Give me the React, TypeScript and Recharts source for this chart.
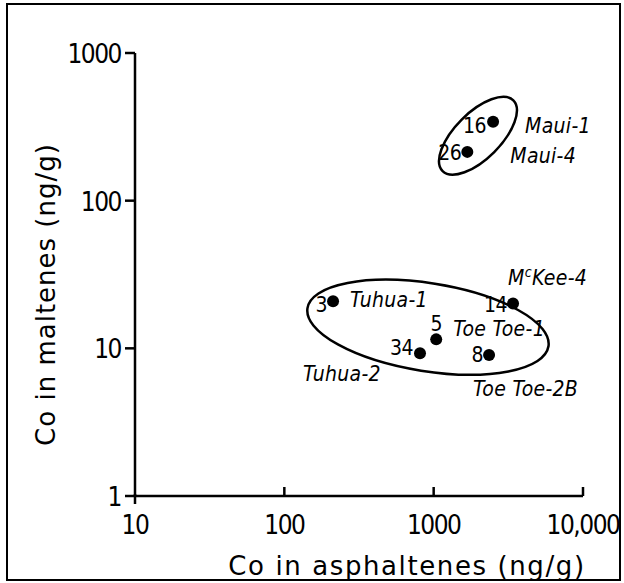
import React from 'react'
import { ScatterChart, Scatter, XAxis, YAxis, ReferenceDot } from 'recharts'

// samples
const sampleIds = ['16', '26', '3', '14', '5', '34', '8']
const asphaltenes = [2500, 1680, 212, 3400, 1040, 810, 2350]
const maltenes = [342, 214, 20.8, 20.1, 11.5, 9.25, 9.0]
const wellNames = ['Maui-1', 'Maui-4', 'Tuhua-1', 'McKee-4', 'Toe Toe-1', 'Tuhua-2', 'Toe Toe-2B']

const xTicks = [10, 100, 1000, 10000]
const xTickLabels = ['10', '100', '1000', '10,000']
const yTicks = [1, 10, 100, 1000]
const yTickLabels = ['1', '10', '100', '1000']

// centres of the two field outlines
const groupX = [1980, 916]
const groupY = [275, 13.9]

// label placement (px from the dot)
const labelLayout: Record<string, { num: [number, number]; name: [number, number]; numAnchor?: string }> = {
    '16': { num: [-7, 11], name: [32, 11] },
    '26': { num: [-6, 8], name: [43, 11] },
    '3': { num: [-6, 11], name: [17, 6] },
    '14': { num: [-6, 8], name: [-5, -19] },
    '5': { num: [0, -8], name: [17, -3], numAnchor: 'middle' },
    '34': { num: [-7, 2], name: [-117, 28] },
    '8': { num: [-6, 7], name: [-16, 41] },
}

const outlines = [
    { rx: 50, ry: 23, angle: -45 },
    { rx: 122, ry: 44, angle: 9 },
]

const rows = sampleIds.map((id, i) => ({ id, x: asphaltenes[i], y: maltenes[i], well: wellNames[i] }))

const labelFont = "'DejaVu Sans Condensed', sans-serif"
const titleFont = "'DejaVu Sans', sans-serif"

const WellName = ({ name }: { name: string }) => {
    if (name.startsWith('Mc')) {
        return (
            <>
                M
                <tspan fontSize={14} dy={-8}>c</tspan>
                <tspan dy={8}>{name.slice(2)}</tspan>
            </>
        )
    }
    return <>{name}</>
}

const SampleDot = (props: any) => {
    const { cx, cy, payload } = props
    const lay = labelLayout[payload.id]
    return (
        <g>
            <circle cx={cx} cy={cy} r={6} fill="#000" />
            <text
                x={cx + lay.num[0]}
                y={cy + lay.num[1]}
                textAnchor={lay.numAnchor || 'end'}
                fontFamily={labelFont}
                fontSize={21}
                letterSpacing={-0.5}
                fill="#000"
            >
                {payload.id}
            </text>
            <text
                x={cx + lay.name[0]}
                y={cy + lay.name[1]}
                fontFamily={labelFont}
                fontStyle="italic"
                fontSize={21}
                letterSpacing={0.3}
                fill="#000"
            >
                <WellName name={payload.well} />
            </text>
        </g>
    )
}

const XTick = (props: any) => {
    const { x, y, payload } = props
    const idx = xTicks.indexOf(payload.value)
    return (
        <g>
            {idx > 0 && <line x1={x} y1={y} x2={x} y2={y - 9} stroke="#000" strokeWidth={2.5} />}
            {idx === 0 && <line x1={x} y1={y - 2} x2={x} y2={y + 8} stroke="#000" strokeWidth={2.5} />}
            <text x={x} y={y + 38} textAnchor="middle" fontFamily={labelFont} fontSize={26} letterSpacing={-1.5} fill="#000">
                {xTickLabels[idx]}
            </text>
        </g>
    )
}

const YTick = (props: any) => {
    const { x, y, payload } = props
    const idx = yTicks.indexOf(payload.value)
    return (
        <g>
            <line x1={x - 10} y1={y} x2={x} y2={y} stroke="#000" strokeWidth={2.5} />
            <text x={x - 14} y={y + 10} textAnchor="end" fontFamily={labelFont} fontSize={26} letterSpacing={-1.5} fill="#000">
                {yTickLabels[idx]}
            </text>
        </g>
    )
}

export default function App() {
    return (
        <div style={{ position: 'absolute', left: 0, top: 0, width: 624, height: 583, background: '#fff' }}>
            <div
                style={{
                    position: 'absolute',
                    left: 6,
                    top: 3,
                    width: 611,
                    height: 574,
                    border: '2.5px solid #000',
                }}
            />
            <ScatterChart
                width={624}
                height={583}
                margin={{ top: 53, right: 41, bottom: 0, left: 0 }}
                style={{ position: 'absolute', left: 0, top: 0 }}
            >
                <XAxis
                    type="number"
                    dataKey="x"
                    scale="log"
                    domain={[10, 10000]}
                    ticks={xTicks}
                    height={87}
                    tickSize={0}
                    tickMargin={0}
                    tickLine={false}
                    axisLine={{ stroke: '#000', strokeWidth: 2.5 }}
                    tick={<XTick />}
                    label={{
                        content: ({ viewBox }: any) => (
                            <text
                                x={viewBox.x + viewBox.width / 2 + 48}
                                y={viewBox.y + 79}
                                textAnchor="middle"
                                fontFamily={titleFont}
                                fontSize={26}
                                letterSpacing={1.6}
                                fill="#000"
                            >
                                Co in asphaltenes (ng/g)
                            </text>
                        ),
                    }}
                />
                <YAxis
                    type="number"
                    dataKey="y"
                    scale="log"
                    domain={[1, 1000]}
                    ticks={yTicks}
                    width={135}
                    tickSize={0}
                    tickMargin={0}
                    tickLine={false}
                    axisLine={{ stroke: '#000', strokeWidth: 2.5 }}
                    tick={<YTick />}
                    label={{
                        content: ({ viewBox }: any) => {
                            const lx = viewBox.x + 55
                            const ly = viewBox.y + viewBox.height / 2 + 20
                            return (
                                <text
                                    x={lx}
                                    y={ly}
                                    transform={`rotate(-90, ${lx}, ${ly})`}
                                    textAnchor="middle"
                                    fontFamily={titleFont}
                                    fontSize={26}
                                    letterSpacing={1}
                                    fill="#000"
                                >
                                    Co in maltenes (ng/g)
                                </text>
                            )
                        },
                    }}
                />
                {groupX.map((gx, i) => (
                    <ReferenceDot
                        key={`outline-${i}`}
                        x={gx}
                        y={groupY[i]}
                        ifOverflow="visible"
                        shape={(p: any) => (
                            <ellipse
                                cx={p.cx}
                                cy={p.cy}
                                rx={outlines[i].rx}
                                ry={outlines[i].ry}
                                transform={`rotate(${outlines[i].angle}, ${p.cx}, ${p.cy})`}
                                fill="none"
                                stroke="#000"
                                strokeWidth={2.5}
                            />
                        )}
                    />
                ))}
                <Scatter data={rows} shape={<SampleDot />} isAnimationActive={false} />
            </ScatterChart>
        </div>
    )
}
